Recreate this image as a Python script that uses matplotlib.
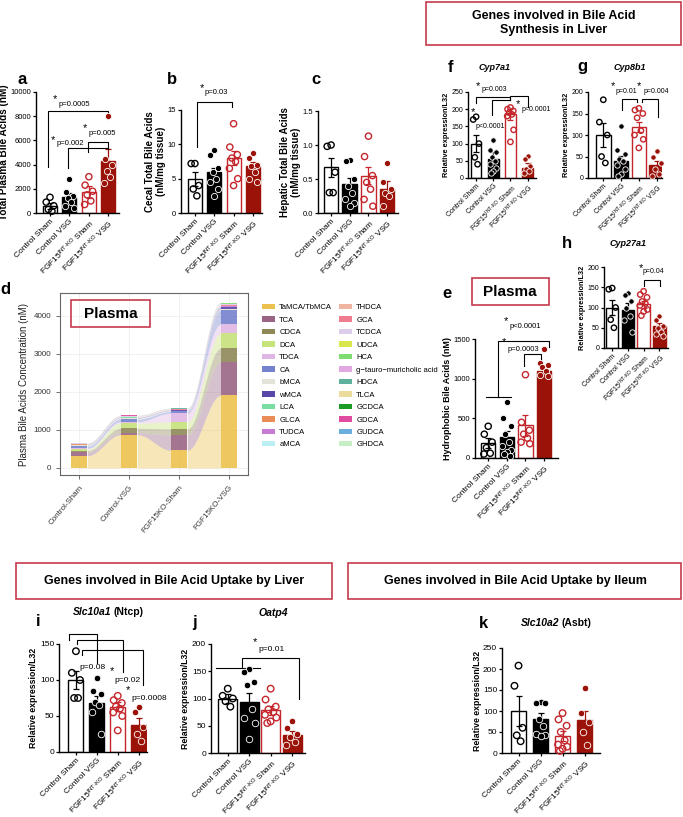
import numpy as np
import matplotlib.pyplot as plt
from matplotlib.patches import Rectangle, Patch

plt.rcParams['font.family'] = ['Liberation Sans', 'DejaVu Sans']
plt.rcParams['mathtext.default'] = 'regular'

W, H = 683, 817
fig = plt.figure(figsize=(W / 100, H / 100), dpi=100)

# ---------------- data ----------------
groups = ['Control Sham', 'Control VSG',
          r'FGF15$^{INT\text{-}KO}$ Sham', r'FGF15$^{INT\text{-}KO}$ VSG']

# a: total plasma bile acids (nM)
a_mean = [600, 1300, 1700, 4300]
a_sem = [250, 350, 500, 1000]
a_pts = [[1300, 900, 600, 300, 150],
         [2800, 1700, 1400, 1200, 900, 600, 400],
         [3000, 2300, 1800, 1500, 1000, 700],
         [8000, 4500, 4000, 3500, 3000, 2500]]

# b: cecal total bile acids (nM/mg tissue)
b_mean = [5.0, 6.0, 8.0, 6.8]
b_sem = [1.0, 0.6, 1.0, 0.6]
b_pts = [[7.2, 7.2, 4.0, 3.5, 2.5],
         [9.2, 8.5, 6.5, 6.0, 5.0, 4.5, 3.5, 2.5],
         [13.0, 9.6, 8.5, 8.0, 7.5, 6.5, 5.0, 4.0],
         [8.8, 8.0, 7.0, 6.8, 6.0, 5.0, 4.5]]

# c: hepatic total bile acids (nM/mg tissue)
c_mean = [0.67, 0.42, 0.55, 0.35]
c_sem = [0.14, 0.10, 0.12, 0.12]
c_pts = [[1.0, 0.98, 0.6, 0.3, 0.3],
         [0.78, 0.76, 0.5, 0.4, 0.3, 0.2, 0.15, 0.1],
         [1.13, 0.83, 0.55, 0.45, 0.35, 0.2, 0.1],
         [0.73, 0.45, 0.35, 0.3, 0.25, 0.1]]

# e: hydrophobic bile acids (nM)
e_mean = [190, 270, 410, 1100]
e_sem = [60, 70, 130, 70]
e_pts = [[400, 300, 200, 130, 60, 50],
         [700, 500, 400, 300, 200, 150, 100, 80, 50, 20],
         [1050, 450, 350, 300, 250, 200, 180],
         [1380, 1200, 1170, 1150, 1100, 1050, 1030]]

# f: Cyp7a1
f_mean = [100, 55, 185, 30]
f_sem = [25, 20, 15, 15]
f_pts = [[178, 170, 100, 60, 40],
         [110, 80, 75, 60, 50, 40, 30, 20, 15],
         [205, 200, 195, 190, 185, 180, 140, 105],
         [65, 55, 35, 25, 20, 15]]

# g: Cyp8b1
g_mean = [100, 40, 118, 30]
g_sem = [28, 12, 12, 10]
g_pts = [[182, 130, 100, 50, 35],
         [122, 65, 55, 45, 40, 30, 20, 10, 5],
         [162, 158, 150, 140, 110, 100, 90, 70],
         [62, 50, 35, 20, 10, 5]]

# h: Cyp27a1
h_mean = [100, 95, 108, 55]
h_sem = [18, 15, 8, 7]
h_pts = [[148, 145, 100, 70, 50],
         [135, 130, 115, 100, 80, 70, 40],
         [140, 132, 125, 115, 110, 105, 95, 90, 80],
         [80, 70, 55, 50, 40, 35, 30]]

# i: Slc10a1 (Ntcp)
i_mean = [100, 68, 63, 38]
i_sem = [12, 10, 6, 9]
i_pts = [[140, 110, 100, 75, 75],
         [103, 85, 80, 70, 65, 55, 25],
         [78, 72, 68, 63, 60, 55, 50, 30],
         [62, 55, 35, 25, 15]]

# j: Oatp4
j_mean = [100, 93, 78, 33]
j_sem = [8, 17, 8, 8]
j_pts = [[118, 105, 100, 95, 85],
         [155, 148, 130, 125, 80, 65, 55, 25],
         [118, 98, 85, 80, 75, 70, 65, 58, 55],
         [58, 45, 35, 30, 20, 15]]

# k: Slc10a2 (Asbt)
k_mean = [100, 80, 40, 78]
k_sem = [36, 15, 12, 22]
k_pts = [[208, 160, 60, 42, 28],
         [122, 120, 118, 80, 65, 45, 42, 40],
         [95, 80, 65, 50, 30, 20, 15, 10, 5],
         [155, 95, 75, 50, 20]]

# d: plasma bile acid composition (nM)
d_groups = ['Control-Sham', 'Control-VSG', 'FGF15KO-Sham', 'FGF15KO-VSG']
bile_acids = ['TaMCA/TbMCA', 'TCA', 'CDCA', 'DCA', 'TDCA', 'CA', 'bMCA', 'wMCA',
              'LCA', 'GLCA', 'TUDCA', 'aMCA', 'THDCA', 'GCA', 'TCDCA', 'UDCA',
              'HCA', 'g\u2212tauro\u2212muricholic acid', 'HDCA', 'TLCA', 'GCDCA',
              'GDCA', 'GUDCA', 'GHDCA']
ba_colors = ['#EDC14D', '#9A6585', '#8E8857', '#C6E27A', '#DFB6E4', '#7481CD',
             '#E3E3DA', '#5A45A8', '#7ADDA2', '#E98C58', '#C77BD5', '#BCEFF3',
             '#EEB4A0', '#F07C8F', '#DCCEEA', '#D8E84C', '#7FDC73', '#E2A8E2',
             '#5EAF9C', '#EBDC9D', '#1B9A25', '#E04A9F', '#6BAEDE', '#C8EEC5']
ctrl_sham_ba = [320, 90, 45, 40, 25, 55, 25, 12, 3, 2, 5, 6, 4, 3, 10, 2, 2, 3, 2, 1, 1, 1, 1, 1]
ctrl_vsg_ba = [875, 55, 115, 135, 35, 70, 25, 15, 3, 2, 6, 8, 5, 3, 15, 2, 2, 4, 2, 1, 1, 1, 1, 1]
ko_sham_ba = [465, 395, 170, 180, 230, 45, 20, 12, 3, 2, 5, 6, 4, 3, 15, 2, 2, 4, 2, 1, 1, 1, 1, 1]
ko_vsg_ba = [1910, 870, 370, 395, 235, 380, 30, 40, 5, 4, 10, 12, 10, 8, 40, 4, 4, 8, 4, 2, 2, 2, 2, 2]

# ---------------- helpers ----------------
BOX_RED = '#c63b4d'
FACE = ['white', 'black', 'white', '#9b1208']
EDGE = ['black', 'black', '#c4262c', '#9b1208']
FILLED = [False, True, False, True]


def px_axes(left, top, right, bottom):
    return fig.add_axes([left / W, 1 - bottom / H, (right - left) / W, (bottom - top) / H])


def spread(vals, width):
    # scatter-dot layout: neighbours in value are pushed sideways
    order = np.argsort(vals)[::-1]
    pattern = [0.0, -0.27, 0.27, -0.12, 0.14, -0.3, 0.3, 0.0, -0.18, 0.2]
    offs = np.zeros(len(vals))
    for rank, idx in enumerate(order):
        offs[idx] = pattern[rank % len(pattern)] * width
    return offs


def bar_panel(box, xlim, ymax, yticks, means, sems, pts, width, ylabel,
              fs_lab=6, fs_tick=5.5, fs_x=5.5, msize=20):
    ax = px_axes(*box)
    x = np.arange(4)
    ax.bar(x, means, width=width, color=FACE, edgecolor=EDGE, linewidth=1.0, zorder=1)
    for i in range(4):
        ax.errorbar(x[i], means[i], yerr=sems[i], color=EDGE[i], capsize=2.2,
                    elinewidth=0.9, capthick=0.9, zorder=2)
        vals = np.array(pts[i], dtype=float)
        xs = x[i] + spread(vals, width)
        if FILLED[i]:
            ax.scatter(xs, vals, s=msize, color=EDGE[i], edgecolor='white',
                       linewidth=0.6, zorder=3, clip_on=False)
        else:
            ax.scatter(xs, vals, s=msize, facecolor='none', edgecolor=EDGE[i],
                       linewidth=1.0, zorder=3, clip_on=False)
    ax.set_xlim(*xlim)
    ax.set_ylim(0, ymax)
    for s in ['top', 'right']:
        ax.spines[s].set_visible(False)
    for s in ['left', 'bottom']:
        ax.spines[s].set_linewidth(1.0)
    ax.set_yticks(yticks)
    ax.tick_params(length=2.5, width=0.9, labelsize=fs_tick, pad=1)
    ax.set_xticks(x)
    ax.set_xticklabels(groups, rotation=45, ha='right', rotation_mode='anchor', fontsize=fs_x)
    ax.set_ylabel(ylabel, fontsize=fs_lab, fontweight='bold', labelpad=1)
    return ax


def bracket(ax, xl, xr, ytop, yl, yr):
    ax.plot([xl, xl, xr, xr], [yl, ytop, ytop, yr], color='black', lw=0.8,
            clip_on=False, solid_joinstyle='miter')


def note(ax, x, y, text, size=5.5):
    ax.text(x, y, text, ha='left', va='center', fontsize=size, clip_on=False)


def star(ax, x, y, size=8):
    ax.text(x, y, '*', ha='center', va='center', fontsize=size, clip_on=False)


def fig_text(x, y, s, **kw):
    fig.text(x / W, 1 - y / H, s, **kw)


def red_box(left, top, right, bottom, lw=1.2):
    fig.patches.append(Rectangle((left / W, 1 - bottom / H), (right - left) / W,
                                 (bottom - top) / H, transform=fig.transFigure,
                                 fill=False, edgecolor=BOX_RED, linewidth=lw))


# ---------------- panel a ----------------
ax = bar_panel((36, 92, 119, 213), (-0.72, 3.55), 10000, range(0, 10001, 2000),
               a_mean, a_sem, a_pts, 0.72, 'Total Plasma Bile Acids (nM)', fs_lab=7.2,
               fs_x=6)
bracket(ax, -0.09, 3.0, 8450, 3800, 7800)
star(ax, 0.26, 9400); note(ax, 0.42, 9000, 'p=0.0005')
bracket(ax, 0.95, 3.0, 5370, 3700, 5300)
star(ax, 0.16, 6000); note(ax, 0.36, 5750, 'p=0.002')
bracket(ax, 1.98, 3.0, 5870, 5040, 5370)
star(ax, 1.81, 7000); note(ax, 1.97, 6600, 'p=0.005')

# ---------------- panel b ----------------
ax = bar_panel((181, 110, 262, 213), (-0.72, 3.47), 15, [0, 5, 10, 15],
               b_mean, b_sem, b_pts, 0.72, 'Cecal Total Bile Acids\n(nM/mg tissue)', fs_lab=7,
               fs_x=6)
bracket(ax, 0.09, 1.92, 16.2, 9.65, 15.4)
star(ax, 0.37, 18.2); note(ax, 0.52, 17.5, 'p=0.03')

# ---------------- panel c ----------------
ax = bar_panel((318, 111, 398, 213), (-0.7, 3.58), 1.5, [0.0, 0.5, 1.0, 1.5],
               c_mean, c_sem, c_pts, 0.78, 'Hepatic Total Bile Acids\n(nM/mg tissue)', fs_lab=7,
               fs_x=6)
ax.set_yticklabels(['0.0', '0.5', '1.0', '1.5'])

# ---------------- panel e ----------------
ax = bar_panel((475, 339, 558, 458), (-0.71, 3.75), 1500, [0, 500, 1000, 1500],
               e_mean, e_sem, e_pts, 0.78, 'Hydrophobic Bile Acids (nM)', fs_lab=6.5,
               fs_x=6)
ax.plot([-0.1, 1.2], [773, 773], color='black', lw=0.8, clip_on=False)
bracket(ax, 0.55, 3.24, 1479, 773, 1403)
star(ax, 0.98, 1720); note(ax, 1.15, 1655, 'p<0.0001')
bracket(ax, 1.9, 2.84, 1311, 1160, 1201)
star(ax, 0.87, 1460); note(ax, 1.05, 1370, 'p=0.0003')

# ---------------- panel f ----------------
ax = bar_panel((468, 92, 536, 178), (-0.47, 3.49), 250, range(0, 251, 50),
               f_mean, f_sem, f_pts, 0.62, 'Relative expression/L32',
               fs_lab=5.3, fs_tick=5, fs_x=5, msize=15)
bracket(ax, 0.0, 1.98, 236, 219, 227)
star(ax, 0.13, 268); note(ax, 0.33, 256, 'p=0.003', 5)
bracket(ax, 0.91, 1.98, 227, 183, 227)
star(ax, -0.16, 192); note(ax, -0.06, 150, 'p<0.0001', 5)
bracket(ax, 1.98, 3.04, 238, 227, 207)
star(ax, 2.46, 216); note(ax, 2.66, 200, 'p<0.0001', 5)

# ---------------- panel g ----------------
ax = bar_panel((588, 92, 662, 178), (-0.86, 3.3), 200, range(0, 201, 50),
               g_mean, g_sem, g_pts, 0.82, 'Relative expression/L32',
               fs_lab=5.3, fs_tick=5, fs_x=5, msize=15)
bracket(ax, 1.03, 1.88, 183, 157, 177)
star(ax, 0.53, 213); note(ax, 0.71, 201, 'p=0.01', 5)
bracket(ax, 2.16, 3.09, 183, 177, 143)
star(ax, 2.02, 213); note(ax, 2.25, 201, 'p=0.004', 5)

# ---------------- panel h ----------------
ax = bar_panel((604, 267, 668, 348), (-0.52, 3.55), 200, range(0, 201, 50),
               h_mean, h_sem, h_pts, 0.8, 'Relative expression/L32',
               fs_lab=5.3, fs_tick=5, fs_x=5, msize=15)
bracket(ax, 2.02, 3.05, 167, 153, 153)
star(ax, 1.8, 198); note(ax, 1.95, 190, 'p=0.04', 5)

# ---------------- panel i ----------------
ax = bar_panel((59, 644, 147, 752), (-0.81, 3.4), 150, [0, 50, 100, 150],
               i_mean, i_sem, i_pts, 0.72, 'Relative expression/L32',
               fs_lab=6.3, fs_tick=6, fs_x=6, msize=22)
bracket(ax, -0.32, 0.99, 164, 155.6, 124)
note(ax, 0.19, 118, 'p=0.08', 6)
bracket(ax, 0.03, 2.26, 155.6, 150, 111)
star(ax, 1.71, 113); note(ax, 1.82, 100, 'p=0.02', 6)
bracket(ax, 0.27, 3.22, 141.7, 134.7, 93)
star(ax, 2.5, 86); note(ax, 2.66, 75, 'p=0.0008', 6)

# ---------------- panel j ----------------
ax = bar_panel((211, 644, 305, 753), (-0.78, 3.6), 200, range(0, 201, 50),
               j_mean, j_sem, j_pts, 0.88, 'Relative expression/L32',
               fs_lab=6.3, fs_tick=6, fs_x=6, msize=22)
ax.plot([-0.55, 1.48], [156, 156], color='black', lw=0.8, clip_on=False)
bracket(ax, 0.65, 3.3, 174, 156, 100)
star(ax, 1.28, 203); note(ax, 1.43, 189, 'p=0.01', 6)

# ---------------- panel k ----------------
ax = bar_panel((502, 648, 600, 753), (-0.75, 3.7), 250, range(0, 251, 50),
               k_mean, k_sem, k_pts, 0.68, 'Relative expression/L32',
               fs_lab=6.3, fs_tick=6, fs_x=6, msize=22)

# ---------------- panel d (alluvial) ----------------
ax = px_axes(60, 293, 248, 475)
comp = np.array([ctrl_sham_ba, ctrl_vsg_ba, ko_sham_ba, ko_vsg_ba], dtype=float).T
tops = np.cumsum(comp, axis=0)
bots = tops - comp
xg = np.arange(len(d_groups))
bw = 0.33
t = np.linspace(0, 1, 60)
ease = (1 - np.cos(np.pi * t)) / 2
for k in range(len(bile_acids)):
    col = ba_colors[k]
    ax.bar(xg, comp[k], bottom=bots[k], width=bw, color=col, alpha=0.9, linewidth=0, zorder=2)
    for g in range(len(xg) - 1):
        xs = np.linspace(xg[g] + bw / 2, xg[g + 1] - bw / 2, len(t))
        lo = bots[k, g] + (bots[k, g + 1] - bots[k, g]) * ease
        hi = tops[k, g] + (tops[k, g + 1] - tops[k, g]) * ease
        ax.fill_between(xs, lo, hi, color=col, alpha=0.4, linewidth=0, zorder=1)
ax.set_xlim(-0.38, 3.38)
ax.set_ylim(-185, 4600)
ax.set_xticks(xg)
ax.set_xticklabels(d_groups, rotation=50, ha='right', rotation_mode='anchor', fontsize=5.8, color='#333333')
ax.set_yticks([0, 1000, 2000, 3000, 4000])
ax.tick_params(labelsize=5.8, length=3, width=0.6, color='#555555', labelcolor='#333333')
ax.grid(color='#ececec', linewidth=0.5, zorder=0)
ax.set_axisbelow(True)
for s in ax.spines.values():
    s.set_color('#666666')
    s.set_linewidth(0.8)
ax.set_ylabel('Plasma Bile Acids Concentration (nM)', fontsize=7, color='#222222', labelpad=3)

handles = [Patch(facecolor=c, edgecolor='none') for c in ba_colors]
fig.legend(handles, bile_acids, ncol=2, loc='upper left', bbox_to_anchor=(262 / W, 1 - 304 / H),
           frameon=False, fontsize=5.5, handlelength=1.7, handleheight=0.7,
           handletextpad=0.55, labelspacing=0.67, columnspacing=0.9,
           borderpad=0, borderaxespad=0)

# ---------------- boxes, headers, letters, titles ----------------
red_box(426, 2, 681, 45)
fig_text(554, 23, 'Genes involved in Bile Acid\nSynthesis in Liver', ha='center', va='center',
         fontsize=9, fontweight='bold', linespacing=1.25)
red_box(16, 563, 332, 599)
fig_text(174, 581, 'Genes involved in Bile Acid Uptake by Liver', ha='center', va='center',
         fontsize=9, fontweight='bold')
red_box(348, 563, 681, 599)
fig_text(515, 581, 'Genes involved in Bile Acid Uptake by Ileum', ha='center', va='center',
         fontsize=9, fontweight='bold')
red_box(71, 300, 150, 327)
fig_text(111, 313.5, 'Plasma', ha='center', va='center', fontsize=11, fontweight='bold')
red_box(472, 278, 549, 305)
fig_text(510, 291.5, 'Plasma', ha='center', va='center', fontsize=11, fontweight='bold')

letters = {'a': (22, 79), 'b': (172, 79), 'c': (316, 79), 'd': (5, 290), 'e': (447, 293),
           'f': (450, 67), 'g': (582, 67), 'h': (567, 243), 'i': (38, 622), 'j': (195, 623),
           'k': (483, 623)}
for lab, (lx, ly) in letters.items():
    fig_text(lx, ly, lab, ha='center', va='center', fontsize=12, fontweight='bold')

fig_text(495, 67, 'Cyp7a1', ha='center', va='center', fontsize=6.5, fontweight='bold', style='italic')
fig_text(630, 67, 'Cyp8b1', ha='center', va='center', fontsize=6.5, fontweight='bold', style='italic')
fig_text(628, 243, 'Cyp27a1', ha='center', va='center', fontsize=6.5, fontweight='bold', style='italic')
fig_text(111, 612, 'Slc10a1', ha='right', va='center', fontsize=7.5, fontweight='bold', style='italic')
fig_text(113, 612, '(Ntcp)', ha='left', va='center', fontsize=7.5, fontweight='bold')
fig_text(273, 613, 'Oatp4', ha='center', va='center', fontsize=7.5, fontweight='bold', style='italic')
fig_text(559, 623, 'Slc10a2', ha='right', va='center', fontsize=7.5, fontweight='bold', style='italic')
fig_text(561, 623, '(Asbt)', ha='left', va='center', fontsize=7.5, fontweight='bold')

fig.savefig('out.png', dpi=100)
